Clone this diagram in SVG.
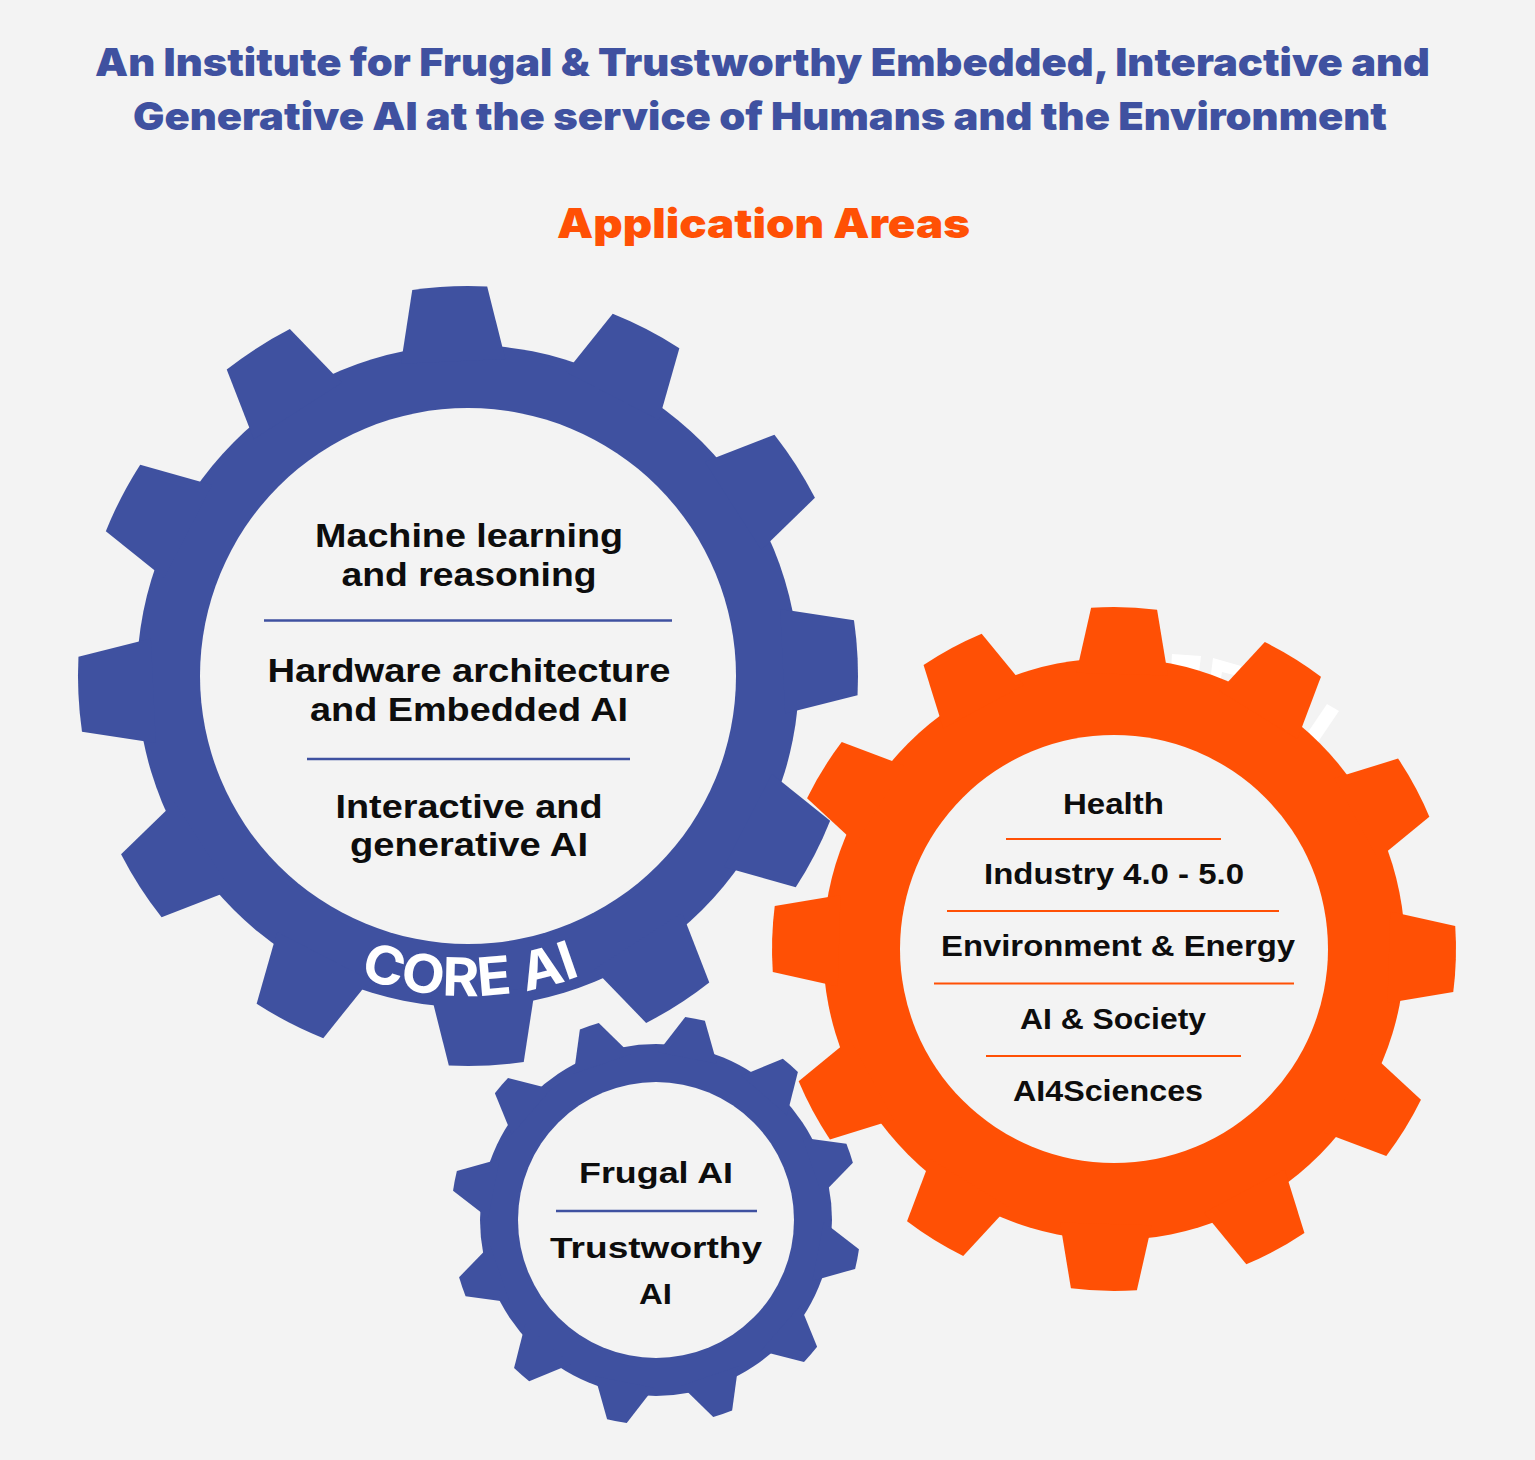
<svg xmlns="http://www.w3.org/2000/svg" xmlns:xlink="http://www.w3.org/1999/xlink" width="1535" height="1460" viewBox="0 0 1535 1460">
<style>
.title{font-family:"Inter","Lato","Liberation Sans",sans-serif;font-weight:900;fill:#3f51a0;text-anchor:middle}
.sub{font-family:"Inter","Lato","Liberation Sans",sans-serif;font-weight:900;fill:#ff5005;text-anchor:middle}
.blue{fill:#3f51a0}
.orange{fill:#ff5005}
.hole{fill:#f3f3f3}
.lbl{font-family:"Liberation Sans","Arimo",sans-serif;font-weight:700;fill:#0d0d0d;text-anchor:middle}
.big{font-size:34px}
.mid{font-size:30px}
.sepb{stroke:#3f51a0;stroke-width:2.5}
.sepo{stroke:#ff5005;stroke-width:2}
.core{font-family:"Inter","Lato","Liberation Sans",sans-serif;font-weight:700;font-size:53px;fill:#ffffff}
.frag{fill:#ffffff}
</style>
<defs>
<path id="toothBig" d="M -52.3 -315 L -37.5 -388.2 A 390 390 0 0 1 37.5 -388.2 L 52.3 -315 Z"/>
<path id="toothOr" d="M -45.8 -275 L -33 -340.4 A 342 342 0 0 1 33 -340.4 L 45.8 -275 Z"/>
<path id="toothSm" d="M -30.1 -165 L -10 -204.8 A 205 205 0 0 1 10 -204.8 L 30.1 -165 Z"/>
<path id="coreArc" d="M 167.3 785.4 A 320 320 0 0 0 768.7 785.4"/>
</defs>
<rect width="1535" height="1460" fill="#f3f3f3"/>

<g id="title">
<text class="title" x="762.5" y="76" font-size="39" textLength="1335" lengthAdjust="spacingAndGlyphs">An Institute for Frugal &amp; Trustworthy Embedded, Interactive and</text>
<text class="title" x="760" y="130" font-size="39" textLength="1254" lengthAdjust="spacingAndGlyphs">Generative AI at the service of Humans and the Environment</text>
<text class="sub" x="763.5" y="238" font-size="41" textLength="413" lengthAdjust="spacingAndGlyphs">Application Areas</text>
</g>

<g id="core-gear">
<g class="blue" transform="translate(468,676)">
<circle r="331"/>
<use href="#toothBig" transform="rotate(-2.7)"/>
<use href="#toothBig" transform="rotate(27.3)"/>
<use href="#toothBig" transform="rotate(57.3)"/>
<use href="#toothBig" transform="rotate(87.3)"/>
<use href="#toothBig" transform="rotate(117.3)"/>
<use href="#toothBig" transform="rotate(147.3)"/>
<use href="#toothBig" transform="rotate(177.3)"/>
<use href="#toothBig" transform="rotate(207.3)"/>
<use href="#toothBig" transform="rotate(237.3)"/>
<use href="#toothBig" transform="rotate(267.3)"/>
<use href="#toothBig" transform="rotate(297.3)"/>
<use href="#toothBig" transform="rotate(327.3)"/>
<circle class="hole" r="268"/>
</g>
<text class="core"><textPath href="#coreArc" startOffset="50.3%" text-anchor="middle" textLength="226" lengthAdjust="spacingAndGlyphs">CORE AI</textPath></text>
<text class="lbl big" x="469" y="547" textLength="308" lengthAdjust="spacingAndGlyphs">Machine learning</text>
<text class="lbl big" x="469" y="586" textLength="255" lengthAdjust="spacingAndGlyphs">and reasoning</text>
<line class="sepb" x1="264" y1="620.5" x2="672" y2="620.5"/>
<text class="lbl big" x="469" y="682" textLength="403" lengthAdjust="spacingAndGlyphs">Hardware architecture</text>
<text class="lbl big" x="469" y="721" textLength="318" lengthAdjust="spacingAndGlyphs">and Embedded AI</text>
<line class="sepb" x1="307" y1="759" x2="630" y2="759"/>
<text class="lbl big" x="469" y="818" textLength="267" lengthAdjust="spacingAndGlyphs">Interactive and</text>
<text class="lbl big" x="469" y="856" textLength="238" lengthAdjust="spacingAndGlyphs">generative AI</text>
</g>

<g id="fragments">
<polygon class="frag" points="1172,654 1201,656 1199,672 1171,670"/>
<polygon class="frag" points="1213,658 1241,666 1238,676 1222,672 1219,690 1209,690"/>
<polygon class="frag" points="1327,704 1339,711 1318,742 1306,735"/>
</g>

<g id="applications-gear">
<g class="orange" transform="translate(1114,949)">
<circle r="291"/>
<use href="#toothOr" transform="rotate(1.7)"/>
<use href="#toothOr" transform="rotate(31.7)"/>
<use href="#toothOr" transform="rotate(61.7)"/>
<use href="#toothOr" transform="rotate(91.7)"/>
<use href="#toothOr" transform="rotate(121.7)"/>
<use href="#toothOr" transform="rotate(151.7)"/>
<use href="#toothOr" transform="rotate(181.7)"/>
<use href="#toothOr" transform="rotate(211.7)"/>
<use href="#toothOr" transform="rotate(241.7)"/>
<use href="#toothOr" transform="rotate(271.7)"/>
<use href="#toothOr" transform="rotate(301.7)"/>
<use href="#toothOr" transform="rotate(331.7)"/>
<circle class="hole" r="214"/>
</g>
<text class="lbl mid" x="1113.5" y="814" textLength="101" lengthAdjust="spacingAndGlyphs">Health</text>
<line class="sepo" x1="1006" y1="839" x2="1221" y2="839"/>
<text class="lbl mid" x="1114" y="884" textLength="260" lengthAdjust="spacingAndGlyphs">Industry 4.0 - 5.0</text>
<line class="sepo" x1="947" y1="911" x2="1279" y2="911"/>
<text class="lbl mid" x="1118" y="956" textLength="354" lengthAdjust="spacingAndGlyphs">Environment &amp; Energy</text>
<line class="sepo" x1="934" y1="983.5" x2="1294" y2="983.5"/>
<text class="lbl mid" x="1113" y="1029" textLength="186" lengthAdjust="spacingAndGlyphs">AI &amp; Society</text>
<line class="sepo" x1="986" y1="1056" x2="1241" y2="1056"/>
<text class="lbl mid" x="1108" y="1101" textLength="190" lengthAdjust="spacingAndGlyphs">AI4Sciences</text>
</g>

<g id="frugal-gear">
<g class="blue" transform="translate(656,1220)">
<circle r="176"/>
<use href="#toothSm" transform="rotate(11)"/>
<use href="#toothSm" transform="rotate(41)"/>
<use href="#toothSm" transform="rotate(71)"/>
<use href="#toothSm" transform="rotate(101)"/>
<use href="#toothSm" transform="rotate(131)"/>
<use href="#toothSm" transform="rotate(161)"/>
<use href="#toothSm" transform="rotate(191)"/>
<use href="#toothSm" transform="rotate(221)"/>
<use href="#toothSm" transform="rotate(251)"/>
<use href="#toothSm" transform="rotate(281)"/>
<use href="#toothSm" transform="rotate(311)"/>
<use href="#toothSm" transform="rotate(341)"/>
<circle class="hole" r="138"/>
</g>
<text class="lbl mid" x="656" y="1183" textLength="154" lengthAdjust="spacingAndGlyphs">Frugal AI</text>
<line class="sepb" x1="556" y1="1211" x2="757" y2="1211"/>
<text class="lbl mid" x="656" y="1258" textLength="212" lengthAdjust="spacingAndGlyphs">Trustworthy</text>
<text class="lbl mid" x="655.5" y="1304" textLength="33" lengthAdjust="spacingAndGlyphs">AI</text>
</g>

<g id="connectors"/>
</svg>
